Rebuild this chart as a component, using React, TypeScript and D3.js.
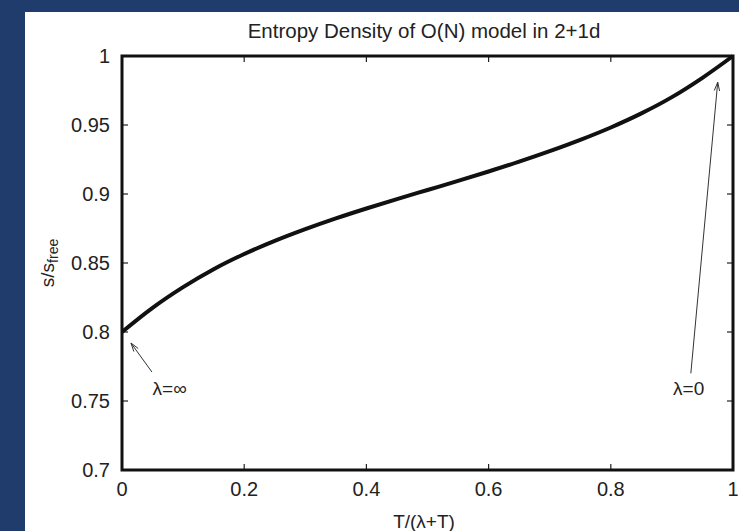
import React from "react";
import * as d3 from "d3";

// Entropy density ratio s/s_free versus T/(λ+T)
const tValues = [0, 0.05, 0.1, 0.15, 0.2, 0.25, 0.3, 0.35, 0.4, 0.45, 0.5, 0.55, 0.6, 0.65, 0.7, 0.75, 0.8, 0.85, 0.9, 0.95, 1.0];
const sValues = [0.8, 0.8175, 0.8325, 0.8455, 0.8565, 0.866, 0.8745, 0.8823, 0.8895, 0.8963, 0.9029, 0.9095, 0.9163, 0.9234, 0.931, 0.9392, 0.9482, 0.9584, 0.9702, 0.9842, 1.0];

const xTicks = [0, 0.2, 0.4, 0.6, 0.8, 1];
const yTicks = [0.7, 0.75, 0.8, 0.85, 0.9, 0.95, 1];

const title = "Entropy Density of O(N) model in 2+1d";
const xLabel = "T/(λ+T)";

// Annotations: label position, arrow tail and arrow head, all in data units
const annotations = [
  { text: "λ=∞", lx: 0.05, ly: 0.754, tx: 0.049, ty: 0.771, hx: 0.0147, hy: 0.792 },
  { text: "λ=0", lx: 0.902, ly: 0.754, tx: 0.931, ty: 0.77, hx: 0.975, hy: 0.981 },
];

const W = 739;
const H = 531;
const left = 122, right = 733, top = 56, bottom = 470;
const font = "'Liberation Sans', Arial, Helvetica, sans-serif";

export default function App() {
  const x = d3.scaleLinear().domain([0, 1]).range([left, right]);
  const y = d3.scaleLinear().domain([0.7, 1]).range([bottom, top]);
  const line = d3
    .line<number>()
    .x((_, i) => x(tValues[i]))
    .y((d) => y(d))
    .curve(d3.curveMonotoneX);

  const tick = 6;

  const arrowHead = (tx: number, ty: number, hx: number, hy: number) => {
    const x1 = x(tx), y1 = y(ty), x2 = x(hx), y2 = y(hy);
    const ang = Math.atan2(y2 - y1, x2 - x1);
    const len = 9, spread = 0.3;
    const a = [x2 - len * Math.cos(ang - spread), y2 - len * Math.sin(ang - spread)];
    const b = [x2 - len * Math.cos(ang + spread), y2 - len * Math.sin(ang + spread)];
    return `M${a[0]},${a[1]}L${x2},${y2}L${b[0]},${b[1]}`;
  };

  return (
    <svg
      width={W}
      height={H}
      style={{ position: "absolute", left: 0, top: 0, display: "block" }}
      fontFamily={font}
    >
      <rect x={0} y={0} width={W} height={H} fill="#1f3c6d" />
      <rect x={25} y={12} width={W - 25} height={H - 12} fill="#ffffff" />

      <text x={424} y={38} textAnchor="middle" fontSize={20.5} fill="#222">
        {title}
      </text>

      {/* ticks, mirrored on all four sides, pointing inward */}
      {xTicks.map((t) => (
        <g key={`xt${t}`}>
          <line x1={x(t)} x2={x(t)} y1={bottom} y2={bottom - tick} stroke="#222" strokeWidth={1.2} />
          <line x1={x(t)} x2={x(t)} y1={top} y2={top + tick} stroke="#222" strokeWidth={1.2} />
          <text x={x(t)} y={496} textAnchor="middle" fontSize={20} fill="#222">
            {d3.format("")(t)}
          </text>
        </g>
      ))}
      {yTicks.map((t) => (
        <g key={`yt${t}`}>
          <line x1={left} x2={left + tick} y1={y(t)} y2={y(t)} stroke="#222" strokeWidth={1.2} />
          <line x1={right} x2={right - tick} y1={y(t)} y2={y(t)} stroke="#222" strokeWidth={1.2} />
          <text x={110} y={y(t) + 7} textAnchor="end" fontSize={20} fill="#222">
            {d3.format("")(t)}
          </text>
        </g>
      ))}

      <path d={line(sValues) ?? ""} fill="none" stroke="#111" strokeWidth={4} strokeLinejoin="round" />

      <rect
        x={left}
        y={top}
        width={right - left}
        height={bottom - top}
        fill="none"
        stroke="#111"
        strokeWidth={3}
      />

      {annotations.map((a) => (
        <g key={a.text}>
          <line x1={x(a.tx)} y1={y(a.ty)} x2={x(a.hx)} y2={y(a.hy)} stroke="#333" strokeWidth={1} />
          <path d={arrowHead(a.tx, a.ty, a.hx, a.hy)} fill="none" stroke="#333" strokeWidth={1} />
          <text x={x(a.lx)} y={y(a.ly)} fontSize={19} fill="#222">
            {a.text}
          </text>
        </g>
      ))}

      <text x={424} y={528} textAnchor="middle" fontSize={19} fill="#222">
        {xLabel}
      </text>

      <text transform={`translate(54,263) rotate(-90)`} textAnchor="middle" fontSize={19} fill="#222">
        s/s
        <tspan fontSize={14} dy={4}>free</tspan>
      </text>
    </svg>
  );
}
